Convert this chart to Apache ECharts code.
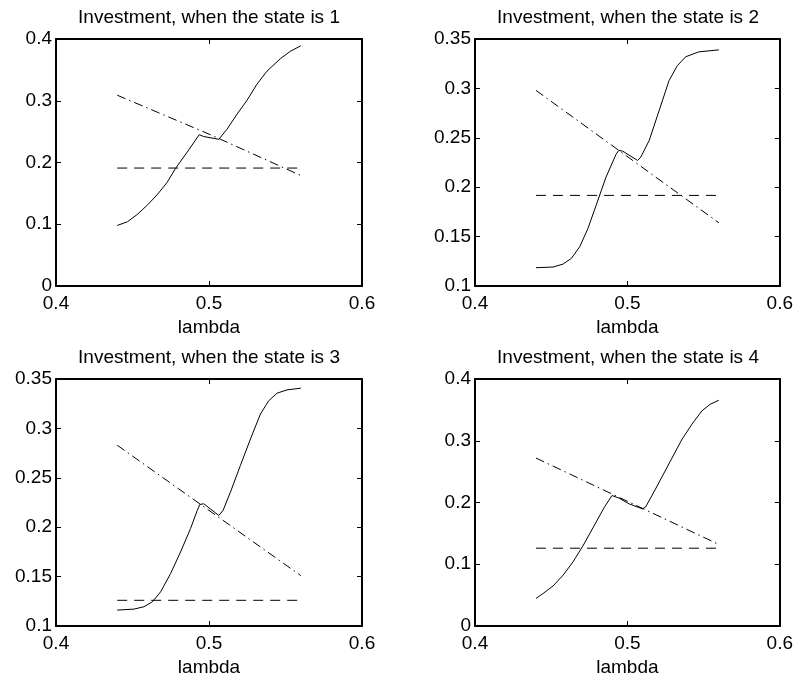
<!DOCTYPE html>
<html>
<head>
<meta charset="utf-8">
<script src="https://cdn.jsdelivr.net/npm/echarts@6/dist/echarts.min.js"></script>
<style>
html,body{margin:0;padding:0;background:#fff;}
#c{width:796px;height:679px;}
</style>
</head>
<body>
<div id="c"></div>
<script>
// ---------- data ----------
const titles = [
  'Investment, when the state is 1',
  'Investment, when the state is 2',
  'Investment, when the state is 3',
  'Investment, when the state is 4'
];
const xTicks = [0.4, 0.5, 0.6];
const yRanges = [[0, 0.4, 0.1], [0.1, 0.35, 0.05], [0.1, 0.35, 0.05], [0, 0.4, 0.1]];

// state 1
const lam1 = [0.44, 0.4467, 0.4532, 0.4597, 0.4662, 0.4727, 0.478, 0.4858, 0.4936, 0.4966, 0.5064, 0.5118, 0.518, 0.5249, 0.5314, 0.5379, 0.5466, 0.5531, 0.56];
const inv1 = [0.098, 0.104, 0.116, 0.131, 0.148, 0.168, 0.190, 0.217, 0.245, 0.242, 0.2376, 0.254, 0.277, 0.301, 0.327, 0.348, 0.368, 0.380, 0.389];
const dashDotLam1 = [0.44, 0.5, 0.56];
const dashDot1 = [0.309, 0.246, 0.179];
const flatLam = [0.44, 0.56];
const flat1 = [0.191, 0.191];

// state 2
const lam2 = [0.44, 0.4513, 0.4578, 0.4632, 0.4687, 0.4741, 0.4795, 0.486, 0.4925, 0.4943, 0.4969, 0.5067, 0.5088, 0.5143, 0.5208, 0.5273, 0.5327, 0.5382, 0.5469, 0.56];
const inv2 = [0.1185, 0.1192, 0.1222, 0.1279, 0.1397, 0.1582, 0.1817, 0.2103, 0.2331, 0.2372, 0.2365, 0.2271, 0.2305, 0.2473, 0.2775, 0.3078, 0.3229, 0.332, 0.337, 0.339];
const dashDotLam2 = [0.44, 0.56];
const dashDot2 = [0.298, 0.164];
const flat2 = [0.1917, 0.1917];

// state 3
const lam3 = [0.44, 0.451, 0.4575, 0.463, 0.4684, 0.4749, 0.4814, 0.4879, 0.4923, 0.494, 0.4966, 0.5064, 0.5092, 0.514, 0.5205, 0.5271, 0.5336, 0.539, 0.5444, 0.551, 0.56];
const inv3 = [0.1161, 0.1171, 0.1195, 0.1245, 0.1346, 0.1531, 0.1749, 0.1985, 0.2169, 0.223, 0.2237, 0.2119, 0.217, 0.2355, 0.2624, 0.2893, 0.3145, 0.3279, 0.3356, 0.339, 0.3407];
const dashDotLam3 = [0.44, 0.56];
const dashDot3 = [0.283, 0.151];
const flat3 = [0.126, 0.126];

// state 4
const lam4 = [0.44, 0.4447, 0.4513, 0.4578, 0.4643, 0.4708, 0.4795, 0.4849, 0.4899, 0.4946, 0.5011, 0.5098, 0.5119, 0.5185, 0.5272, 0.5359, 0.5424, 0.5489, 0.5543, 0.56];
const inv4 = [0.0446, 0.0527, 0.065, 0.0823, 0.1038, 0.1296, 0.1683, 0.1925, 0.2113, 0.207, 0.1978, 0.1898, 0.1925, 0.222, 0.2624, 0.3027, 0.3269, 0.3484, 0.3591, 0.3656];
const dashDotLam4 = [0.44, 0.56];
const dashDot4 = [0.272, 0.132];
const flat4 = [0.126, 0.126];

const solidX = [lam1, lam2, lam3, lam4];
const solidY = [inv1, inv2, inv3, inv4];
const ddX = [dashDotLam1, dashDotLam2, dashDotLam3, dashDotLam4];
const ddY = [dashDot1, dashDot2, dashDot3, dashDot4];
const flatY = [flat1, flat2, flat3, flat4];

// ---------- layout ----------
const FONT = '"Liberation Sans", Arial, Helvetica, sans-serif';
const FS = 19;
const gridPos = [
  {left: 56, top: 39}, {left: 475, top: 39},
  {left: 56, top: 379}, {left: 475, top: 379}
];
const GW = 306, GH = 247;

const zip = (xs, ys) => xs.map((x, i) => [x, ys[i]]);

const grid = [], xAxis = [], yAxis = [], series = [], title = [];
gridPos.forEach((g, i) => {
  grid.push({left: g.left, top: g.top, width: GW, height: GH, containLabel: false});
  title.push({
    text: titles[i], left: g.left + GW / 2, top: g.top - 31, textAlign: 'center', padding: 0,
    textStyle: {fontFamily: FONT, fontSize: FS, fontWeight: 'normal', color: '#000'}
  });
  const axisLine = {show: true, onZero: false, lineStyle: {color: '#000', width: 2}};
  const tick = {show: true, inside: true, length: 5, lineStyle: {color: '#000', width: 1}};
  // bottom x
  xAxis.push({
    gridIndex: i, type: 'value', position: 'bottom', min: xTicks[0], max: xTicks[xTicks.length - 1], interval: 0.1,
    axisLine, axisTick: tick, splitLine: {show: false},
    axisLabel: {fontFamily: FONT, fontSize: FS, color: '#000', margin: 8},
    name: 'lambda', nameLocation: 'middle', nameGap: 32,
    nameTextStyle: {fontFamily: FONT, fontSize: FS, color: '#000', verticalAlign: 'top'}
  });
  // top x (box)
  xAxis.push({
    gridIndex: i, type: 'value', position: 'top', min: xTicks[0], max: xTicks[xTicks.length - 1], interval: 0.1,
    axisLine, axisTick: tick, splitLine: {show: false}, axisLabel: {show: false}
  });
  const r = yRanges[i];
  yAxis.push({
    gridIndex: i, type: 'value', position: 'left', min: r[0], max: r[1], interval: r[2],
    axisLine, axisTick: tick, splitLine: {show: false},
    axisLabel: {fontFamily: FONT, fontSize: FS, color: '#000', margin: 4}
  });
  yAxis.push({
    gridIndex: i, type: 'value', position: 'right', min: r[0], max: r[1], interval: r[2],
    axisLine, axisTick: tick, splitLine: {show: false}, axisLabel: {show: false}
  });
  const common = {xAxisIndex: 2 * i, yAxisIndex: 2 * i, showSymbol: false, symbol: 'none', silent: true, animation: false};
  series.push(Object.assign({type: 'line', data: zip(flatLam, flatY[i]),
    lineStyle: {color: '#000', width: 1, type: [10, 7]}}, common));
  series.push(Object.assign({type: 'line', data: zip(ddX[i], ddY[i]),
    lineStyle: {color: '#000', width: 1, type: [9, 4, 1.5, 4]}}, common));
  series.push(Object.assign({type: 'line', data: zip(solidX[i], solidY[i]),
    lineStyle: {color: '#000', width: 1, type: 'solid'}}, common));
});

const chart = echarts.init(document.getElementById('c'));
chart.setOption({backgroundColor: '#fff', animation: false, title, grid, xAxis, yAxis, series});
</script>
</body>
</html>
